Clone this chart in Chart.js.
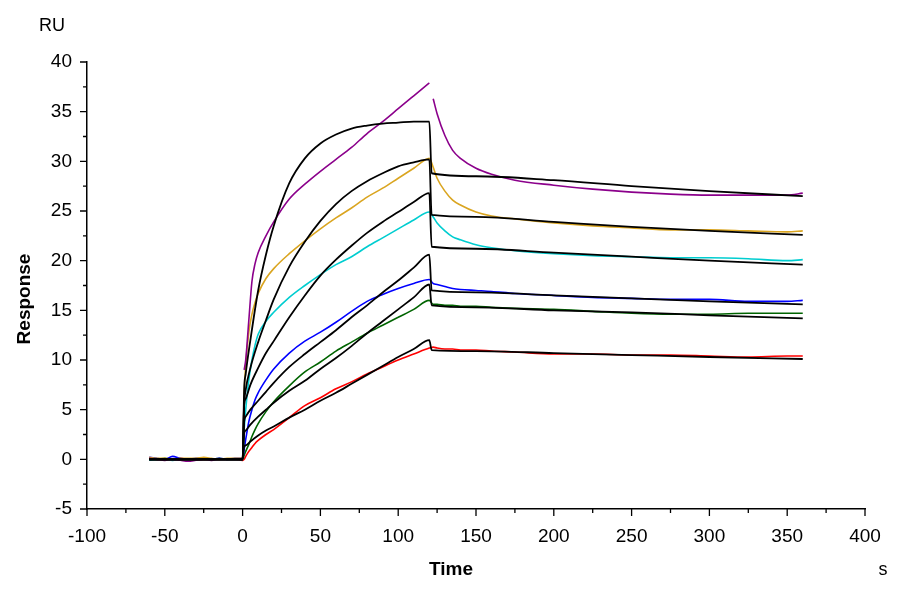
<!DOCTYPE html>
<html>
<head>
<meta charset="utf-8">
<title>Sensorgram</title>
<script src="https://cdn.jsdelivr.net/npm/chart.js@4.4.1/dist/chart.umd.min.js"></script>
<style>
    html, body { margin: 0; padding: 0; background: #fff; }
    #wrap { width: 900px; height: 600px; }
</style>
</head>
<body>
<div id="wrap"><canvas id="sprChart" width="900" height="600"></canvas></div>
<script>
// Baseline (before injection)
const baseTime = [-60, -55, -50, -45, -40, -35, -30, -25, -20, -15, -10, -5, 0];
const purpleBase = [0.1, 0.0, -0.1, 0.0, -0.1, -0.2, -0.1, 0.0, -0.1, 0.0, 0.0, 0.0, 0.0];
const orangeBase = [0.2, 0.1, 0.1, 0.0, 0.1, 0.1, 0.1, 0.2, 0.1, 0.0, 0.1, 0.1, 0.1];
const cyanBase = [-0.1, 0.0, 0.0, -0.1, 0.0, 0.0, 0.0, 0.1, 0.0, 0.0, 0.0, 0.0, 0.0];
const blueBase = [0.2, 0.1, 0.0, 0.3, 0.1, 0.0, 0.1, 0.1, 0.0, 0.1, 0.0, 0.1, 0.1];
const greenBase = [0.0, 0.0, 0.1, 0.0, 0.0, 0.0, 0.0, 0.0, 0.0, 0.1, 0.0, 0.0, 0.0];
const redBase = [0.1, 0.0, 0.0, 0.0, 0.1, 0.0, 0.0, 0.0, 0.0, 0.0, 0.0, 0.0, -0.1];

// Association phase
const assocTime = [1, 2, 4, 6, 8, 10, 15, 20, 30, 40, 50, 60, 70, 80, 90, 100, 110, 120];
const purpleAssoc = [9.0, 10.0, 14.0, 17.9, 19.7, 20.8, 22.5, 23.9, 26.2, 27.7, 29.0, 30.2, 31.4, 32.8, 34.0, 35.3, 36.6, 37.9];
const orangeAssoc = [6.5, 9.5, 12.8, 14.6, 15.8, 16.7, 18.2, 19.2, 20.7, 22.0, 23.2, 24.3, 25.3, 26.4, 27.3, 28.3, 29.3, 30.3];
const cyanAssoc = [3.0, 5.0, 8.0, 10.0, 11.5, 12.6, 13.9, 14.8, 16.3, 17.5, 18.6, 19.6, 20.4, 21.4, 22.3, 23.2, 24.1, 24.9];
const blueAssoc = [1.0, 2.0, 3.8, 5.0, 6.0, 6.7, 8.0, 9.1, 10.7, 11.9, 12.8, 13.8, 14.9, 15.9, 16.6, 17.2, 17.7, 18.1];
const greenAssoc = [0.4, 0.8, 1.5, 2.3, 3.0, 3.6, 4.8, 5.8, 7.4, 8.8, 9.8, 10.9, 11.8, 12.7, 13.5, 14.3, 15.1, 16.0];
const redAssoc = [0.0, 0.3, 0.8, 1.2, 1.6, 1.9, 2.5, 3.0, 4.2, 5.4, 6.2, 7.1, 7.8, 8.6, 9.3, 10.0, 10.6, 11.2];

// Dissociation phase
const dissocTime = [122.5, 125, 130, 135, 140, 150, 160, 175, 200, 225, 250, 275, 300, 325, 350, 360];
const purpleDissoc = [36.3, 34.8, 32.6, 31.1, 30.3, 29.3, 28.7, 28.1, 27.6, 27.2, 26.9, 26.7, 26.6, 26.6, 26.6, 26.8];
const orangeDissoc = [29.4, 28.3, 27.0, 26.1, 25.6, 24.9, 24.5, 24.2, 23.8, 23.5, 23.3, 23.1, 23.1, 23.0, 22.9, 23.0];
const cyanDissoc = [24.4, 23.8, 23.0, 22.4, 22.1, 21.6, 21.3, 21.0, 20.7, 20.5, 20.4, 20.3, 20.3, 20.2, 20.0, 20.1];
const blueDissoc = [17.7, 17.6, 17.4, 17.2, 17.1, 17.0, 16.9, 16.7, 16.5, 16.3, 16.2, 16.1, 16.1, 15.9, 15.9, 16.0];
const greenDissoc = [15.6, 15.6, 15.5, 15.5, 15.4, 15.4, 15.3, 15.2, 15.1, 14.9, 14.7, 14.6, 14.6, 14.7, 14.7, 14.7];
const redDissoc = [11.3, 11.2, 11.1, 11.1, 11.0, 11.0, 10.9, 10.8, 10.6, 10.6, 10.5, 10.5, 10.4, 10.3, 10.4, 10.4];

// Fitted curves (black)
const fitTime = [-60, 0, 1, 2, 5, 10, 15, 20, 30, 40, 50, 60, 70, 80, 90, 100, 110, 120, 121.5, 150, 200, 250, 300, 360];
const fit1 = [0, 0, 7.0, 8.6, 12.0, 17.0, 20.6, 23.5, 27.8, 30.3, 31.8, 32.7, 33.3, 33.6, 33.8, 33.9, 34.0, 34.0, 28.8, 28.5, 28.1, 27.5, 27.0, 26.5];
const fit2 = [0, 0, 5.5, 7.0, 9.2, 11.8, 14.0, 16.1, 19.4, 21.9, 24.0, 25.7, 27.0, 28.0, 28.8, 29.5, 29.9, 30.2, 24.6, 24.4, 23.9, 23.4, 23.0, 22.6];
const fit3 = [0, 0, 5.5, 6.1, 7.5, 9.2, 10.7, 11.9, 14.3, 16.5, 18.5, 20.1, 21.5, 22.8, 23.9, 24.9, 25.9, 26.8, 21.4, 21.2, 20.8, 20.4, 20.0, 19.6];
const fit4 = [0, 0, 3.8, 4.3, 5.0, 5.9, 6.8, 7.7, 9.3, 10.6, 11.8, 13.0, 14.3, 15.5, 16.8, 18.0, 19.3, 20.6, 17.0, 16.8, 16.5, 16.2, 15.9, 15.6];
const fit5 = [0, 0, 2.6, 2.9, 3.5, 4.3, 5.0, 5.7, 6.9, 7.9, 9.1, 10.2, 11.4, 12.7, 13.9, 15.1, 16.3, 17.6, 15.5, 15.3, 15.0, 14.8, 14.5, 14.2];
const fit6 = [0, 0, 1.3, 1.4, 1.8, 2.4, 2.9, 3.3, 4.2, 5.0, 5.9, 6.7, 7.6, 8.5, 9.4, 10.3, 11.1, 12.0, 11.0, 10.9, 10.7, 10.5, 10.3, 10.1];

const FONT = "'Liberation Sans', Arial, sans-serif";

function toPoints(times, values) {
    return times.map((t, i) => ({ x: t, y: values[i] }));
}

// purple trace has gaps at injection start and end
function curve(base, assoc, dissoc, gaps) {
    let pts = toPoints(baseTime, base);
    if (gaps) pts.push({ x: 0.5, y: null });
    pts = pts.concat(toPoints(assocTime, assoc));
    if (gaps) pts.push({ x: 121, y: null });
    return pts.concat(toPoints(dissocTime, dissoc));
}

const sampleSets = [
    { color: '#8b008b', data: curve(purpleBase, purpleAssoc, purpleDissoc, true) },
    { color: '#daa520', data: curve(orangeBase, orangeAssoc, orangeDissoc) },
    { color: '#00cdd0', data: curve(cyanBase, cyanAssoc, cyanDissoc) },
    { color: '#0000ff', data: curve(blueBase, blueAssoc, blueDissoc) },
    { color: '#006400', data: curve(greenBase, greenAssoc, greenDissoc) },
    { color: '#ff0000', data: curve(redBase, redAssoc, redDissoc) }
];
const fitSets = [fit1, fit2, fit3, fit4, fit5, fit6];

const datasets = [];
fitSets.forEach(f => {
    datasets.push({
        data: toPoints(fitTime, f),
        borderColor: '#000',
        borderWidth: 1.8,
        order: 0
    });
});
sampleSets.forEach(s => {
    datasets.push({
        data: s.data,
        borderColor: s.color,
        borderWidth: 1.6,
        order: 1
    });
});

// tick marks (major + minor) drawn outside the plot
const axisTicks = {
    id: 'axisTicks',
    afterDraw(chart) {
        const ctx = chart.ctx;
        const xs = chart.scales.x, ys = chart.scales.y;
        const area = chart.chartArea;
        ctx.save();
        ctx.strokeStyle = '#000';
        ctx.lineWidth = 1.3;
        ctx.beginPath();
        xs.ticks.forEach((tk, i) => {
            const px = xs.getPixelForValue(tk.value);
            ctx.moveTo(px, area.bottom); ctx.lineTo(px, area.bottom + 7);
            if (i < xs.ticks.length - 1) {
                const mid = xs.getPixelForValue((tk.value + xs.ticks[i + 1].value) / 2);
                ctx.moveTo(mid, area.bottom); ctx.lineTo(mid, area.bottom + 4);
            }
        });
        ys.ticks.forEach((tk, i) => {
            const py = ys.getPixelForValue(tk.value);
            ctx.moveTo(area.left, py); ctx.lineTo(area.left - 7, py);
            if (i < ys.ticks.length - 1) {
                const mid = ys.getPixelForValue((tk.value + ys.ticks[i + 1].value) / 2);
                ctx.moveTo(area.left, mid); ctx.lineTo(area.left - 4, mid);
            }
        });
        ctx.stroke();
        ctx.restore();
    }
};

// unit labels and axis titles
const sideLabels = {
    id: 'sideLabels',
    afterDraw(chart) {
        const ctx = chart.ctx;
        ctx.save();
        ctx.fillStyle = '#000';
        ctx.textAlign = 'center';
        ctx.textBaseline = 'middle';
        ctx.font = '18px ' + FONT;
        ctx.fillText('RU', 52, 26);
        ctx.fillText('s', 883, 570);
        ctx.font = 'bold 19px ' + FONT;
        ctx.fillText('Time', 451, 570);
        ctx.translate(25, 299);
        ctx.rotate(-Math.PI / 2);
        ctx.fillText('Response', 0, 0);
        ctx.restore();
    }
};

new Chart(document.getElementById('sprChart').getContext('2d'), {
    type: 'scatter',
    data: { datasets: datasets },
    options: {
        responsive: false,
        devicePixelRatio: 1,
        animation: false,
        showLine: true,
        spanGaps: false,
        layout: { padding: { left: 0, top: 62, right: 35, bottom: 0 } },
        elements: {
            point: { radius: 0, hoverRadius: 0 },
            line: { cubicInterpolationMode: 'monotone', fill: false }
        },
        plugins: {
            legend: { display: false },
            tooltip: { enabled: false }
        },
        scales: {
            x: {
                type: 'linear',
                min: -100,
                max: 400,
                grid: { display: false, drawTicks: false },
                border: { display: true, color: '#000', width: 1.5 },
                ticks: {
                    stepSize: 50,
                    color: '#000',
                    padding: 16,
                    maxRotation: 0,
                    font: { family: FONT, size: 19 }
                },
                afterFit(scale) {
                    scale.height = 91;
                    scale.paddingLeft = 0;
                    scale.paddingRight = 0;
                }
            },
            y: {
                type: 'linear',
                min: -5,
                max: 40,
                grid: { display: false, drawTicks: false },
                border: { display: true, color: '#000', width: 1.5 },
                ticks: {
                    stepSize: 5,
                    color: '#000',
                    padding: 15,
                    font: { family: FONT, size: 19 }
                },
                afterFit(scale) {
                    scale.width = 87;
                    scale.paddingTop = 0;
                    scale.paddingBottom = 0;
                }
            }
        }
    },
    plugins: [axisTicks, sideLabels]
});
</script>
</body>
</html>
